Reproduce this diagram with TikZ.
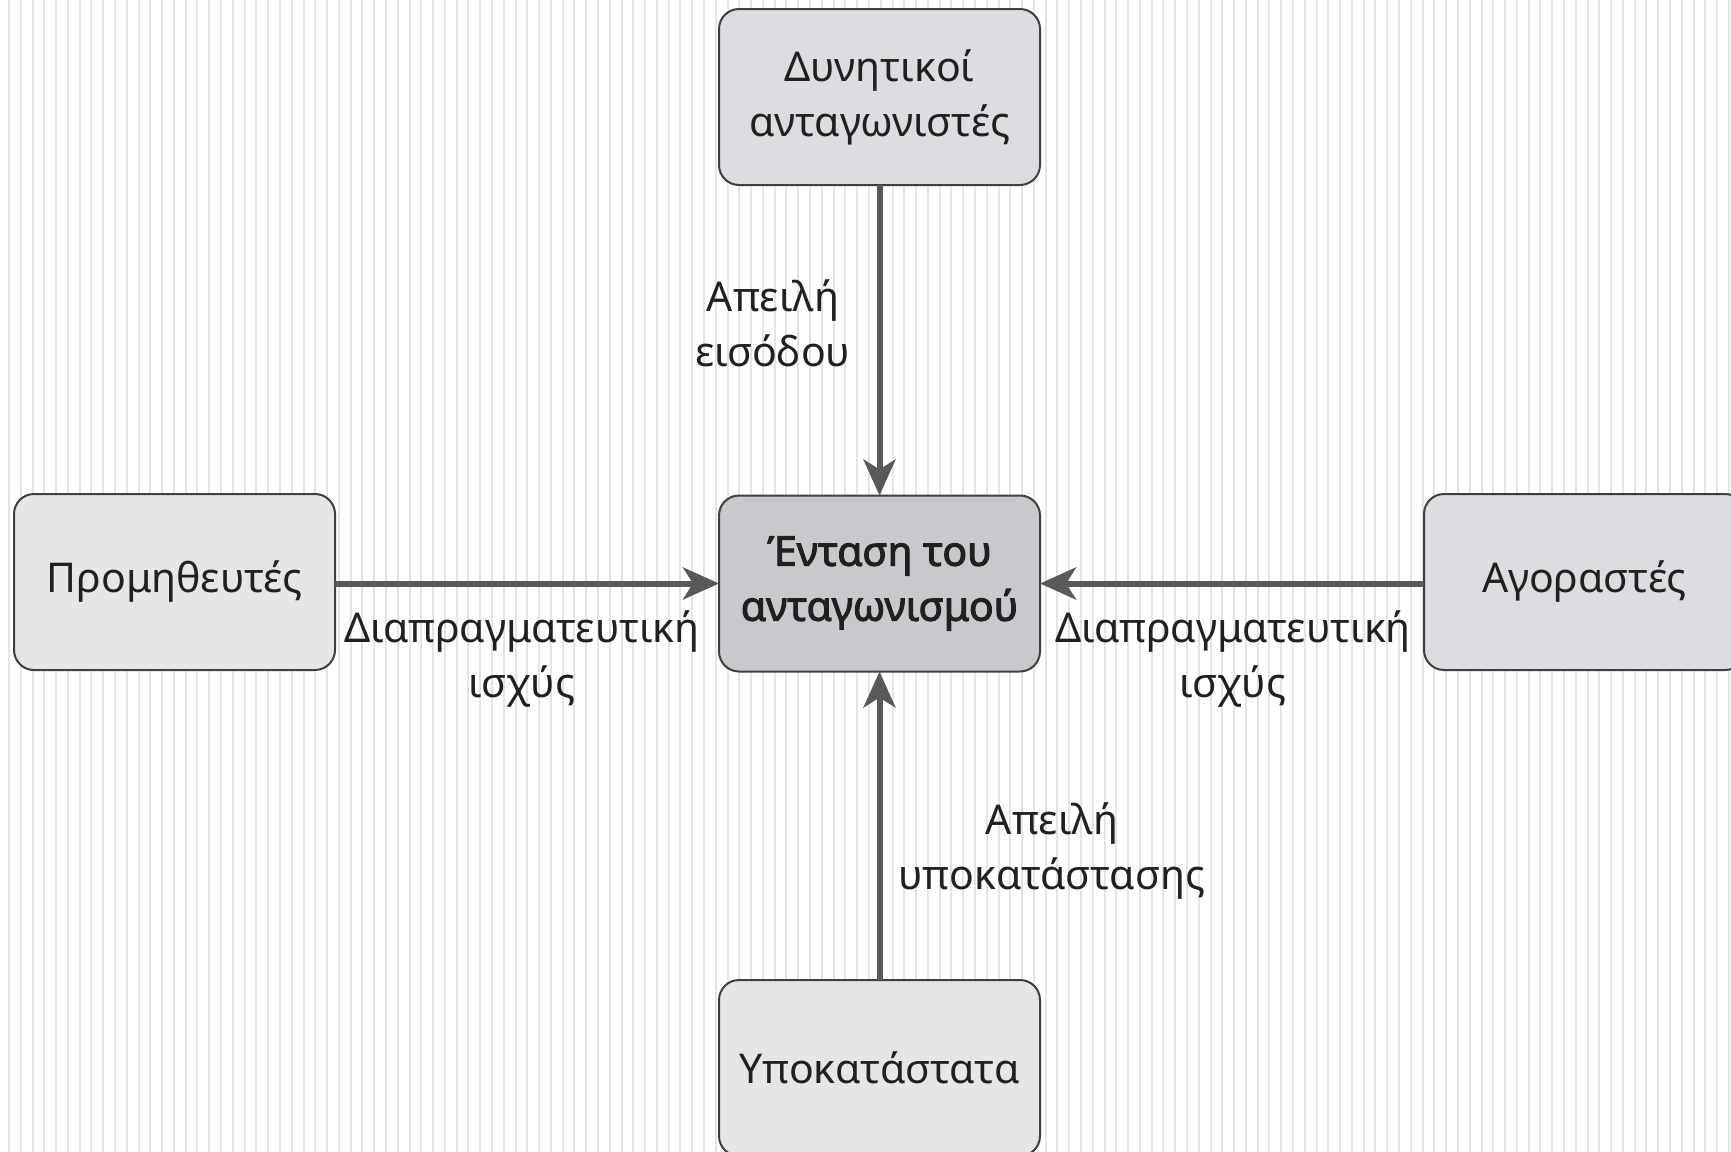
\documentclass[tikz,border=0pt]{standalone}
\usepackage{fontspec}
\setmainfont{Noto Sans}
\newfontfamily\boldgreek{Noto Sans}[FakeBold=2.5]
\usetikzlibrary{arrows.meta}
\definecolor{bgstripe}{HTML}{E4E4E4}
\definecolor{boxlight}{HTML}{E6E6E9}
\definecolor{boxmid}{HTML}{DCDDE0}
\definecolor{boxdark}{HTML}{C8C9CC}
\definecolor{boxline}{HTML}{3F3F40}
\definecolor{arrowgrey}{HTML}{58595B}
\definecolor{txt}{HTML}{231F20}
\tikzset{
  box/.style={draw=boxline, line width=1pt, rounded corners=10pt, minimum width=160.5pt, minimum height=88pt, inner sep=0pt, outer sep=0pt, text=txt, align=center, font=\fontsize{20.5}{27.5}\selectfont},
  lbl/.style={text=txt, align=center, font=\fontsize{20.5}{27.5}\selectfont, inner sep=0pt},
  conn/.style={draw=arrowgrey, line width=3pt, -{Stealth[length=18pt, width=16pt, inset=5pt]}}
}
\begin{document}
\begin{tikzpicture}[x=0.5pt, y=-0.5pt]
\clip (0,0) rectangle (1731,1152);
\fill[white] (0,0) rectangle (1731,1152);
\foreach \i in {0,...,147} {
  \fill[bgstripe] ({9+\i*11.78-1},0) rectangle ({9+\i*11.78+1},1152);
}
\node[box, fill=boxmid] (pot) at (879.5,97) {Δυνητικοί\\ανταγωνιστές};
\node[box, fill=boxdark, font=\boldgreek\fontsize{20.5}{27.5}\selectfont] (cen) at (879.5,583.5) {Ένταση του\\ανταγωνισμού};
\node[box, fill=boxlight] (sup) at (174.5,582) {Προμηθευτές};
\node[box, fill=boxmid] (buy) at (1584.5,582) {Αγοραστές};
\node[box, fill=boxlight] (sub) at (879.5,1068) {Υποκατάστατα};
\draw[conn] (pot.south) -- (cen.north);
\draw[conn] (sub.north) -- (cen.south);
\draw[conn] (sup.east |- cen.center) -- (cen.west);
\draw[conn] (buy.west |- cen.center) -- (cen.east);
\node[lbl] (l1) at (773,323) {Απειλή\\εισόδου};
\node[lbl] (l2) at (522,659) {Διαπραγματευτική\\ισχύς};
\node[lbl] (l3) at (1233,659) {Διαπραγματευτική\\ισχύς};
\node[lbl] (l4) at (1052,851) {Απειλή\\υποκατάστασης};
\end{tikzpicture}
\end{document}
